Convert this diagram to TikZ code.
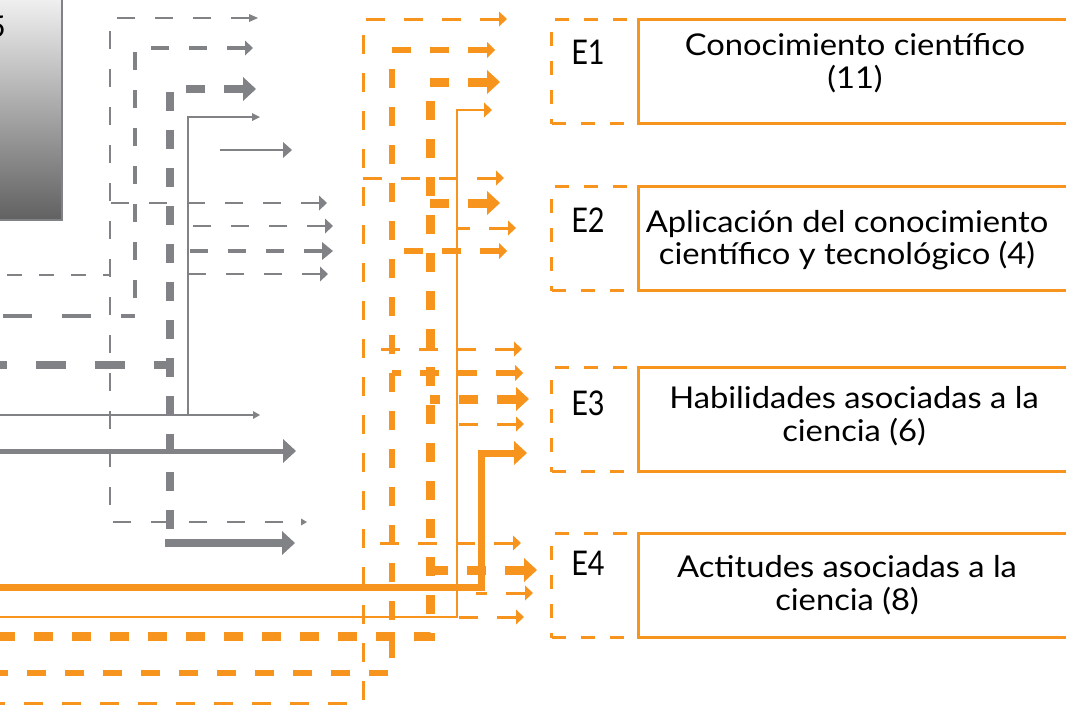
\documentclass[tikz,border=0pt]{standalone}
\usepackage{fontspec}
\setmainfont{Lato}
\usetikzlibrary{arrows.meta}
\definecolor{og}{RGB}{247,148,29}
\definecolor{gr}{RGB}{128,130,133}
\newcommand{\wide}[1]{\scalebox{1.09}[1]{#1}}
\tikzset{
  gthin/.style={draw=gr,line width=1.7pt,dash pattern=on 18pt off 20pt},
  gmed/.style={draw=gr,line width=3.3pt,dash pattern=on 18pt off 20pt},
  gthick/.style={draw=gr,line width=8.5pt,dash pattern=on 19pt off 19pt},
  gsolid/.style={draw=gr,line width=1.7pt},
  gbr/.style={draw=gr,line width=2.7pt,dash pattern=on 18pt off 20pt},
  othin/.style={draw=og,line width=3pt,dash pattern=on 19pt off 19pt},
  omed/.style={draw=og,line width=6.5pt,dash pattern=on 19pt off 19pt},
  othick/.style={draw=og,line width=9pt,dash pattern=on 19pt off 19pt},
  osolid/.style={draw=og,line width=2pt},
  obold/.style={draw=og,line width=7pt},
  obr/.style={draw=og,line width=3pt,dash pattern=on 19pt off 19pt},
  tipA/.style={arrows={Triangle[length=8pt,width=8pt,line width=0pt]}-},
  tipB/.style={arrows={Triangle[length=8pt,width=15pt,line width=0pt]}-},
  tipC/.style={arrows={Triangle[length=13pt,width=24pt,line width=0pt]}-},
  tipD/.style={arrows={Triangle[length=11pt,width=18pt,line width=0pt]}-},
  ebox/.style={draw=og,line width=3pt,dash pattern=on 14pt off 15pt,minimum width=87pt,minimum height=104pt,inner sep=0pt,anchor=north west},
  mbox/.style={draw=og,line width=3pt,minimum width=440pt,minimum height=104pt,inner sep=0pt,anchor=north west},
  mtext/.style={font=\fontsize{30pt}{33pt}\selectfont,inner sep=0pt,anchor=base},
  etext/.style={font=\fontsize{34pt}{40pt}\selectfont,inner sep=0pt,anchor=base},
}
\begin{document}
\begin{tikzpicture}[x=1pt,y=-1pt]
\clip (0,0) rectangle (1066,707);
% gray box
\shade[top color=black!5, bottom color=black!62] (-5,-5) rectangle (62,220);
\draw[gr,line width=1.2pt] (-5,-5) rectangle (62,220);
\node[mtext,anchor=east,text=black] (five) at (6,27) {5};
% ---------------- gray lines
% thin dashed
\draw[gthin,arrows={Triangle[length=9pt,width=8pt,line width=0pt]}-{Triangle[length=6pt,width=7pt,line width=0pt]}] (258,18) -- (110,18) -- (110,522) -- (307,522);
\draw[gthin,dash pattern=on 15pt off 17pt,dash phase=8pt] (110,275) -- (0,275);
\draw[gbr,tipB] (327,203) -- (110,203);
\draw[gbr,tipB] (328,274) -- (173,274);
% medium dashed
\draw[gmed,tipB] (253,48) -- (135,48) -- (135,300);
\draw[gmed,dash pattern=on 29pt off 30pt,dash phase=15pt] (135,316) -- (0,316);
% thick dashed
\draw[gthick,tipC] (256,89) -- (170,89) -- (170,530);
\draw[gthick,dash pattern=on 30pt off 29pt,dash phase=11pt] (173,365) -- (0,365);
\draw[draw=gr,line width=4.5pt,dash pattern=on 18pt off 20pt,tipD] (333,251) -- (173,251);
\draw[draw=gr,line width=8pt,tipC] (295,543) -- (165,543);
% thin solid
\draw[gsolid,tipA] (260,117) -- (188,117) -- (188,415);
\draw[gsolid,arrows=-{Triangle[length=7pt,width=8pt,line width=0pt]}] (0,415) -- (260,415);
\draw[gbr,tipB] (333,226) -- (188,226);
% medium solid
\draw[draw=gr,line width=2.5pt,arrows={Triangle[length=9pt,width=16pt,line width=0pt]}-] (292,150) -- (220,150);
\draw[draw=gr,line width=5pt,tipC] (296,451) -- (0,451);
% ---------------- orange lines
\draw[othin,tipB] (507,19) -- (363,19) -- (363,703) -- (0,703);
\draw[othin,tipB] (504,178) -- (363,178);
\draw[othin,tipB] (522,349) -- (363,349);
\draw[othin,tipB] (521,543) -- (363,543);
\draw[omed,arrows={Triangle[length=8pt,width=16pt,line width=0pt]}-] (495,50) -- (392,50) -- (392,673) -- (0,673);
\draw[omed,arrows={Triangle[length=8pt,width=16pt,line width=0pt]}-] (507,251) -- (392,251);
\draw[omed,arrows={Triangle[length=8pt,width=16pt,line width=0pt]}-] (523,373) -- (392,373);
\draw[othick,tipC] (500,82) -- (430,82) -- (430,636) -- (0,636);
\draw[othick,tipC] (500,203) -- (430,203);
\draw[othick,tipC] (529,399) -- (430,399);
\draw[othick,tipC] (537,570) -- (430,570);
\draw[osolid,tipB] (492,110) -- (457,110) -- (457,617) -- (0,617);
\draw[obr,tipB] (516,228) -- (457,228);
\draw[obr,tipB] (524,424) -- (457,424);
\draw[obr,tipB] (524,617) -- (457,617);
\draw[obold,tipC] (527,453) -- (481,453) -- (481,587) -- (0,587);
\draw[obr,tipB] (533,593) -- (476,593);
% ---------------- boxes
\node[ebox] (e1) at (550,18) {};
\node[ebox] (e2) at (550,185) {};
\node[ebox] (e3) at (550,366) {};
\node[ebox] (e4) at (550,532) {};
\node[mbox] (b1) at (637,18) {};
\node[mbox] (b2) at (637,185) {};
\node[mbox] (b3) at (637,366) {};
\node[mbox] (b4) at (637,532) {};
\node[etext] (l1) at (588,64) {\scalebox{0.85}[1]{E1}};
\node[etext] (l2) at (588,232) {\scalebox{0.85}[1]{E2}};
\node[etext] (l3) at (588,415) {\scalebox{0.85}[1]{E3}};
\node[etext] (l4) at (588,575) {\scalebox{0.85}[1]{E4}};
\node[mtext] (t1a) at (855,55) {\wide{Conocimiento científico}};
\node[mtext] (t1b) at (855,88) {\wide{(11)}};
\node[mtext] (t2a) at (847,232) {\wide{Aplicación del conocimiento}};
\node[mtext] (t2b) at (847,264) {\wide{científico y tecnológico (4)}};
\node[mtext] (t3a) at (854,408) {\wide{Habilidades asociadas a la}};
\node[mtext] (t3b) at (854,441) {\wide{ciencia (6)}};
\node[mtext] (t4a) at (847,577) {\wide{Actitudes asociadas a la}};
\node[mtext] (t4b) at (847,610) {\wide{ciencia (8)}};
\end{tikzpicture}
\end{document}
